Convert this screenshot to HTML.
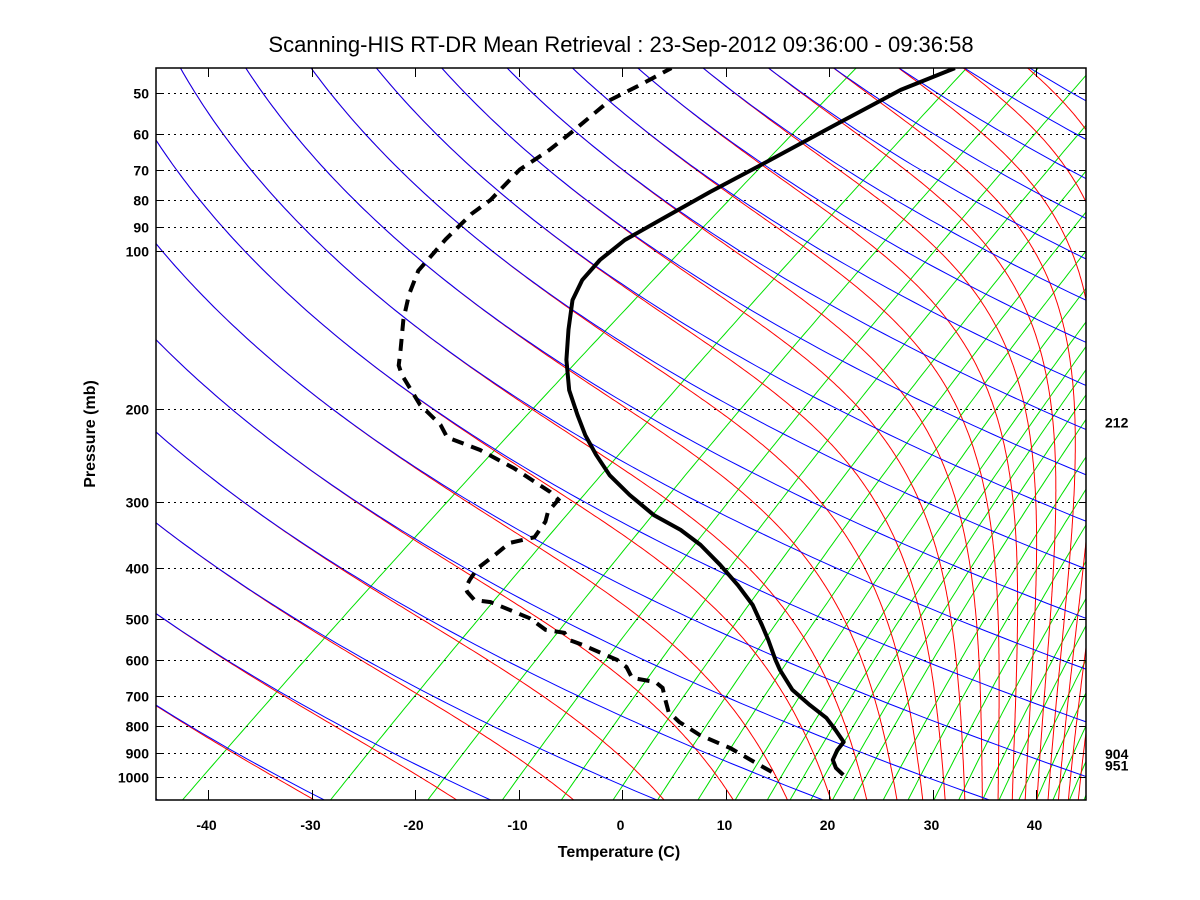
<!DOCTYPE html>
<html><head><meta charset="utf-8"><title>Scanning-HIS Skew-T</title>
<style>
html,body{margin:0;padding:0;background:#fff;}
svg{display:block;font-family:"Liberation Sans",Arial,sans-serif;}
.tk{font-size:14px;font-weight:bold;fill:#000;}
</style></head>
<body>
<svg id="chart" width="1200" height="900" viewBox="0 0 1200 900" xmlns="http://www.w3.org/2000/svg">
<rect x="0" y="0" width="1200" height="900" fill="#fff"/>
<text x="621" y="52" text-anchor="middle" font-size="22" fill="#000">Scanning-HIS RT-DR Mean Retrieval : 23-Sep-2012 09:36:00 - 09:36:58</text>
<defs><clipPath id="plotclip"><rect x="156" y="68" width="930" height="732"/></clipPath></defs>
<g id="bg" clip-path="url(#plotclip)"></g>
<g id="grid"></g>
<g id="profiles" clip-path="url(#plotclip)"></g>
<g id="axes"></g>
<text x="619" y="857" text-anchor="middle" font-size="16" font-weight="bold">Temperature (C)</text>
<text x="95" y="434" text-anchor="middle" font-size="16" font-weight="bold" transform="rotate(-90 95 434)">Pressure (mb)</text>
</svg>
<script>
// ---- data ----
const pressureTicks = [50,60,70,80,90,100,200,300,400,500,600,700,800,900,1000];
const tempTicks = [-40,-30,-20,-10,0,10,20,30,40];
const tempP = [991,961,928,889,858,814,772,730,683,626,599,549,514,471,432,395,362,339,318,291,267,244,224,205,184,161,141,124,113.5,104,95.3,87.3,77.2,67.1,56.9,49.4,44.9];
const tempT = [21.0,19.4,18.1,17.3,16.9,14.6,12.2,9.0,5.4,1.7,0.0,-3.2,-5.7,-9.1,-13.0,-17.3,-21.7,-25.5,-29.9,-34.8,-39.2,-43.1,-46.6,-49.9,-53.8,-57.9,-61.5,-64.8,-66.4,-67.2,-67.3,-66.4,-65.1,-63.3,-61.3,-59.5,-57.0];
const dewP = [978,937,881,832,786,752,714,677,660,648,618,599,579,561,549,532,525,499,481,465,461,445,437,422,401,378,359,350,327,313,297,287,259,239,226,214,205,196,172,165,154,135,121,109,95,85,80,70,64.3,58.9,51.6,48.3,44.9];
const dewT = [13.7,10.8,6.7,2.1,-1.5,-3.8,-5.6,-7.4,-8.8,-11.6,-13.5,-15.3,-18.0,-20.5,-22.4,-23.8,-26.0,-29.0,-32.0,-34.8,-36.6,-38.3,-39.0,-39.6,-40.3,-40.3,-40.4,-38.7,-39.6,-40.6,-41.1,-42.9,-49.3,-54.9,-59.7,-61.9,-64.1,-66.4,-71.9,-73.4,-75.2,-78.7,-81.3,-83.4,-84.7,-85.4,-85.3,-86.3,-85.9,-86.0,-86.3,-85.3,-84.4];
const dryThetas = [224.4,240,255.6,271.2,286.8,302.4,318,333.6,349.2,364.8,380.4,396,411.6,427.2,442.8,458.4,474,489.6,505.2,520.8,536.4,552,567.6,583.2];
const moistTopThetas = [224.4,240,255.6,271.2,286.8,302.4,318,333.6,349.2,364.8,380.4,396,411.6,427.2,442.8,458.4,474,489.6,505.2,520.8,536.4,552,567.6,583.2,598.8,614.4,630,645.6,661.2,676.8];
const mixBaseT = [-39.7,-25.4,-16.0,-8.8,-3.1,1.9,6.2,10.1,13.7,16.8,19.0,21.0,23.1,25.1,28.0,30.4,32.9,35.3,37.6,39.2,41.1,42.8,44.4,46.0,47.4,48.8,50.2];
const sideLabels = ["212","904","951"];
const sideLabelP = [212,904,951];

// ---- axes ----
const PB = 1106, PT = 44, KAP = 0.2915;
function Y(p){ return 251 + 526*Math.log10(p/100); }
function X(T,p){ return 622 + 10.35*T + 1.3*(778 - Y(p)); }
const NS = "http://www.w3.org/2000/svg";
function mk(tag, attrs, parent){ const e=document.createElementNS(NS,tag); for(const k in attrs) e.setAttribute(k,attrs[k]); parent.appendChild(e); return e; }
function pathFrom(pts){ return pts.map((q,i)=>(i?'L':'M')+q[0].toFixed(1)+','+q[1].toFixed(1)).join(''); }
function es(Tc){ return 6.112*Math.exp(17.67*Tc/(Tc+243.5)); }
function tdFromE(e){ const l=Math.log(e/6.112); return 243.5*l/(17.67-l); }

const bg = document.getElementById('bg');
// mixing ratio lines (green)
mixBaseT.forEach(t0=>{
  const e0=es(t0); const w=0.622*e0/(PB-e0); const pts=[];
  for(let lp=Math.log(PB); lp>=Math.log(PT)-0.01; lp-=0.02){ const p=Math.exp(lp); const e=w*p/(0.622+w); pts.push([X(tdFromE(e),p),Y(p)]); }
  const el=mk('path',{d:pathFrom(pts),fill:'none',stroke:'#00e000','stroke-width':1},bg);
  
  
});
// moist adiabats (red), integrated downward from top
function dTdlnp(T,p){ const Rd=287,Cp=287/KAP,Lv=2.5e6,eps=0.622; const e=es(T-273.15); const rs=eps*e/Math.max(p-e,1); return (Rd*T+Lv*rs)/(Cp+Lv*Lv*rs*eps/(Rd*T*T)); }
moistTopThetas.forEach(th=>{
  let lp=Math.log(PT); let T=th*Math.pow(PT/1000,KAP); const h=0.01;
  const pts=[[X(T-273.15,PT),Y(PT)]];
  while(lp<Math.log(PB)){ const p=Math.exp(lp); const k1=dTdlnp(T,p); const k2=dTdlnp(T+h*k1,Math.exp(lp+h)); T+=h*(k1+k2)/2; lp+=h; const pn=Math.exp(lp); pts.push([X(T-273.15,pn),Y(pn)]); }
  const el=mk('path',{d:pathFrom(pts),fill:'none',stroke:'#ff0000','stroke-width':1},bg);
  
  
});
// dry adiabats (blue)
dryThetas.forEach(th=>{
  const pts=[]; for(let lp=Math.log(PB); lp>=Math.log(PT)-0.01; lp-=0.02){ const p=Math.exp(lp); const T=th*Math.pow(p/1000,KAP)-273.15; pts.push([X(T,p),Y(p)]); }
  const el=mk('path',{d:pathFrom(pts),fill:'none',stroke:'#0000ff','stroke-width':1},bg);
  
  
});

// grid + y tick labels
const grid=document.getElementById('grid'), axes=document.getElementById('axes');
pressureTicks.forEach(p=>{
  const y=Math.round(Y(p))+0.5;
  const g=mk('line',{x1:156,x2:1086,y1:y,y2:y,stroke:'#000','stroke-width':1,'stroke-dasharray':'2,4'},grid);
  
  
  mk('line',{x1:156,x2:163,y1:y,y2:y,stroke:'#000','stroke-width':1},axes);
  mk('line',{x1:1079,x2:1086,y1:y,y2:y,stroke:'#000','stroke-width':1},axes);
  const t=mk('text',{x:149,y:y+5,'text-anchor':'end',class:'tk'},axes);
  t.textContent=p;
  
  
});
tempTicks.forEach(T=>{
  const x=Math.round(622+10.35*T)+0.5;
  mk('line',{x1:x,x2:x,y1:790,y2:800,stroke:'#000','stroke-width':1},axes);
  mk('line',{x1:x,x2:x,y1:68,y2:77,stroke:'#000','stroke-width':1},axes);
  const t=mk('text',{x:x-2,y:830,'text-anchor':'middle',class:'tk'},axes);
  t.textContent=T;
  
  
});
sideLabels.forEach((s,i)=>{
  const t=mk('text',{x:1105,y:Y(sideLabelP[i])+5,class:'tk'},axes);
  t.textContent=s;
  
  
});
const fr=mk('rect',{x:156,y:68,width:930,height:732,fill:'none',stroke:'#000','stroke-width':1.5},axes);



// profiles
const prof=document.getElementById('profiles');
const tp=mk('path',{d:pathFrom(tempP.map((p,i)=>[X(tempT[i],p),Y(p)])),fill:'none',stroke:'#000','stroke-width':4,'stroke-linejoin':'round'},prof);


const dp=mk('path',{d:pathFrom(dewP.map((p,i)=>[X(dewT[i],p),Y(p)])),fill:'none',stroke:'#000','stroke-width':4,'stroke-dasharray':'12,8'},prof);


</script>
</body></html>
